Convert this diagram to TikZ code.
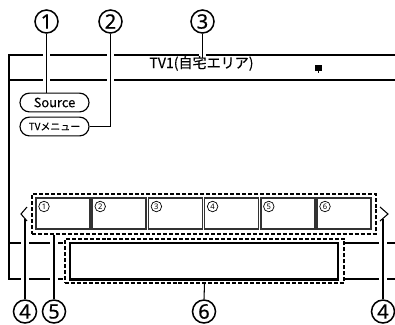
\documentclass[tikz,border=0pt]{standalone}
\usepackage{fontspec}
\setmainfont{Noto Sans}
\newfontfamily\jpfont{Noto Sans CJK JP}[FakeBold=0.3]
\newfontfamily\numfont{Noto Sans}[FakeBold=0.6]
\usetikzlibrary{positioning}
\pgfdeclarelayer{back}
\pgfdeclarelayer{gap}
\pgfsetlayers{back,gap,main}

\begin{document}
\begin{tikzpicture}[x=0.03cm,y=-0.03cm,
    num/.style={draw,circle,line width=1.3pt,minimum size=19.6pt,inner sep=0,font=\numfont\fontsize{17}{17}\selectfont},
    smallnum/.style={draw,circle,line width=0.6pt,minimum size=9pt,inner sep=0,font=\fontsize{6.5}{6.5}\selectfont},
    lead/.style={line width=0.9pt},
    gapline/.style={white,line width=6pt},
    frame/.style={line width=1.9pt},
    thinline/.style={line width=0.9pt},
    thumb/.style={draw=black!80,line width=1.3pt,minimum width=46pt,minimum height=26.5pt,inner sep=0},
    pill/.style={draw,line width=1pt,rounded corners=8pt,minimum width=58.9pt,minimum height=16pt,inner sep=0},
    dashbox/.style={draw,line width=1pt,dash pattern=on 3.4pt off 1.7pt,inner sep=0}]
  \useasboundingbox (0,0) rectangle (395,324);
  % screen frame
  \begin{pgfonlayer}{back}
    \draw[frame] (395,55) -- (9,55) -- (9,279) -- (63,279);
    \draw[frame] (345,279) -- (395,279);
    \draw[thinline] (9,80) -- (395,80);
    \draw[thinline] (9,243) -- (63,243);
    \draw[thinline] (345,243) -- (395,243);
  \end{pgfonlayer}
  % title bar
  \node[anchor=base,font=\jpfont\fontsize{12}{12}\selectfont,inner sep=0] (ttl) at (201.5,68) {TV1(自宅エリア)};
  \fill (315,65) rectangle (322,70.5);
  \fill (318,70.5) rectangle (319.4,72.5);
  % buttons
  \node[pill,font=\jpfont\fontsize{11}{11}\selectfont] (src) at (54.5,102.5) {Source};
  \node[pill,font=\jpfont\fontsize{8.5}{8.5}\selectfont] (menu) at (54.5,126.5) {TVメニュー};
  % thumbnails
  \node[dashbox,minimum width=293.6pt,minimum height=34.1pt] (row) at (204,214) {};
  \foreach \i in {1,...,6} {
    \node[thumb] (t\i) at ({63+56.2*(\i-1)},213.5) {};
    \node[smallnum] (s\i) at ({44+56.2*(\i-1)},206.5) {\i};
  }
  \draw[thinline] (27,207) -- (21,214) -- (27,221);
  \draw[thinline] (380,207) -- (388,214) -- (380,221);
  \coordinate (prev) at (25,219);
  \coordinate (next) at (383,219);
  % bottom panel
  \node[dashbox,minimum width=238.2pt,minimum height=37.6pt] (bar) at (204.5,261) {};
  \node[draw,line width=1.1pt,minimum width=228.8pt,minimum height=30.7pt,inner sep=0] (panel) at (204,261) {};
  \draw[frame] (panel.south west) -- (panel.south east);
  % callout numbers
  \node[num] (n1) at (46.5,21.5) {1};
  \node[num] (n2) at (110.5,21.5) {2};
  \node[num] (n3) at (202.5,21.5) {3};
  \node[num] (n4) at (25,311.5) {4};
  \node[num] (n5) at (54,311.5) {5};
  \node[num] (n6) at (204,311.5) {6};
  \node[num] (n7) at (383,311.5) {4};
  \coordinate (tip3) at (202.5,58);
  % leader lines
  \foreach \a/\b in {n1.south/n1.south |- src.north, n3.south/tip3, n4.north/prev, n5.north/n5.north |- row.south, n6.north/bar.south, n7.north/next} {
    \begin{pgfonlayer}{gap}
      \draw[gapline] (\a) -- (\b);
    \end{pgfonlayer}
    \draw[lead] (\a) -- (\b);
  }
  \begin{pgfonlayer}{gap}
    \draw[gapline] (n2.south) |- (menu.east);
  \end{pgfonlayer}
  \draw[lead] (n2.south) |- (menu.east);
\end{tikzpicture}
\end{document}
